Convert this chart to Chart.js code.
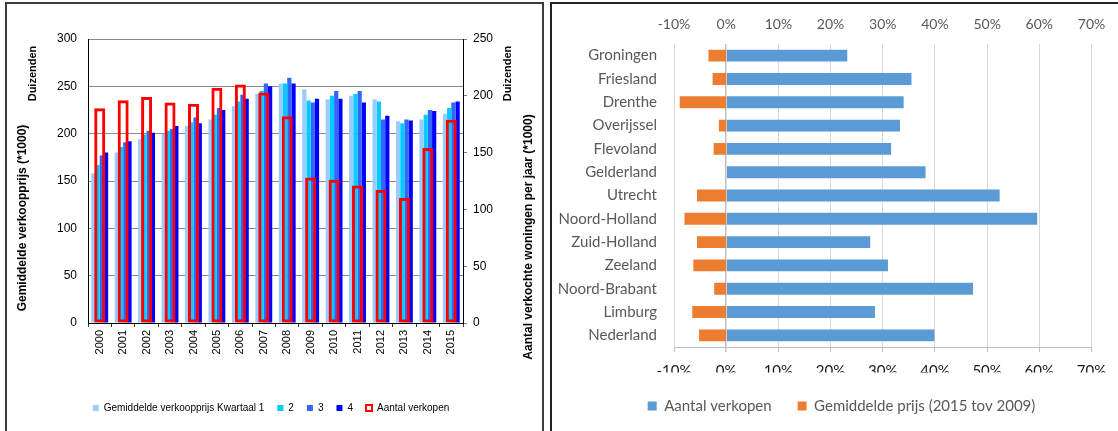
<!DOCTYPE html>
<html><head><meta charset="utf-8">
<script src="https://cdn.jsdelivr.net/npm/chart.js@4.4.1/dist/chart.umd.min.js"></script>
<style>
html,body{margin:0;padding:0;background:#fff;overflow:hidden;width:1118px;height:431px;}
.box{position:absolute;box-sizing:border-box;}
#lbox{left:5px;top:2px;width:539px;height:445px;border:2px solid #3c3c3c;}
#rbox{left:550px;top:2px;width:600px;height:445px;border:2px solid #222;}
#lwrap{position:absolute;left:7px;top:5px;width:534px;height:426px;}
#rwrap{position:absolute;left:553px;top:5px;width:578px;height:426px;}
canvas{display:block;}
</style></head>
<body>
<div class="box" id="lbox"></div>
<div class="box" id="rbox"></div>
<div id="lwrap"><canvas id="c1" width="534" height="426" style="width:534px;height:426px"></canvas></div>
<div id="rwrap"><canvas id="c2" width="578" height="426" style="width:578px;height:426px"></canvas></div>
<script>
// ---- Left chart data ----
const years = ['2000','2001','2002','2003','2004','2005','2006','2007','2008','2009','2010','2011','2012','2013','2014','2015'];
const q1 = [158,180,194,200,208,215,229,242,253,247,236,240,236,213,215,221];
const q2 = [167,186,199,203,212,220,234,245,253,235,240,242,234,211,220,227];
const q3 = [177,191,203,205,217,227,241,253,259,233,245,245,215,215,225,233];
const q4 = [180,192,201,208,211,225,237,250,253,237,237,233,219,214,224,234];
const sales = [189,196,199,194,193,207,210,203,182,128,126,121,117,110,154,179];
const leftTicks = [0,50,100,150,200,250,300];
const rightTicks = [0,50,100,150,200,250];

// ---- Right chart data ----
const regions = ['Groningen','Friesland','Drenthe','Overijssel','Flevoland','Gelderland','Utrecht','Noord-Holland','Zuid-Holland','Zeeland','Noord-Brabant','Limburg','Nederland'];
const salesChange = [23.2,35.5,34.0,33.3,31.6,38.2,52.4,59.6,27.6,31.0,47.3,28.5,39.9];
const priceChange = [-3.4,-2.6,-8.9,-1.4,-2.4,0,-5.6,-8.0,-5.6,-6.3,-2.3,-6.5,-5.2];

const ARIAL = 'Liberation Sans, Arial, sans-serif';
const CAL = 'Lato, Carlito, Calibri, sans-serif';

const axisTexts = {
  id: 'axisTexts',
  afterDraw(chart, args, opts) {
    const ctx = chart.ctx;
    (opts.items || []).forEach(it => {
      ctx.save();
      ctx.translate(it.x, it.y);
      ctx.rotate(-Math.PI / 2);
      ctx.font = it.font;
      ctx.fillStyle = '#000';
      ctx.textAlign = 'center';
      ctx.textBaseline = 'middle';
      ctx.fillText(it.text, 0, 0);
      ctx.restore();
    });
  }
};

const legendShift = {
  id: 'legendShift',
  afterLayout(chart, args, opts) {
    const lg = chart.legend;
    if (lg && opts.dx) { lg.left += opts.dx; lg.right += opts.dx; }
  }
};

new Chart(document.getElementById('c1'), {
  type: 'bar',
  data: {
    labels: years,
    datasets: [
      {label: 'Gemiddelde verkoopprijs Kwartaal 1', data: q1, backgroundColor: '#99CCFF', yAxisID: 'y', order: 1},
      {label: '2', data: q2, backgroundColor: '#00CCFF', yAxisID: 'y', order: 1},
      {label: '3', data: q3, backgroundColor: '#3366FF', yAxisID: 'y', order: 1},
      {label: '4', data: q4, backgroundColor: '#0000FF', yAxisID: 'y', order: 1},
      {label: 'Aantal verkopen', data: sales, yAxisID: 'y2', backgroundColor: 'rgba(255,255,255,0)',
       borderColor: '#FF0000', borderWidth: 3, borderSkipped: false, grouped: false,
       categoryPercentage: 0.47, barPercentage: 1, order: 0}
    ]
  },
  options: {
    responsive: false,
    animation: false,
    layout: {padding: {left: 0, right: 6, top: 34, bottom: 8}},
    datasets: {bar: {categoryPercentage: 0.72, barPercentage: 1}},
    plugins: {
      tooltip: {enabled: false},
      legend: {
        position: 'bottom',
        labels: {
          boxWidth: 6, boxHeight: 6, padding: 13, color: '#000',
          font: {family: ARIAL, size: 10},
          generateLabels(chart) {
            const items = Chart.defaults.plugins.legend.labels.generateLabels(chart);
            items.forEach(i => { if (i.datasetIndex === 4) i.lineWidth = 2; });
            items.sort((a, b) => a.datasetIndex - b.datasetIndex);
            return items;
          }
        }
      },
      axisTexts: {
        items: [
          {text: 'Duizenden', x: 25.5, y: 68.5, font: 'bold 11px ' + ARIAL},
          {text: 'Gemiddelde verkoopprijs (*1000)', x: 15.5, y: 213, font: 'bold 12px ' + ARIAL},
          {text: 'Duizenden', x: 501, y: 68.5, font: 'bold 11px ' + ARIAL},
          {text: 'Aantal verkochte woningen per jaar (*1000)', x: 521.5, y: 232, font: 'bold 12px ' + ARIAL}
        ]
      }
    },
    scales: {
      x: {
        offset: true,
        grid: {offset: true, drawOnChartArea: false, drawTicks: true, tickLength: 4, color: '#333'},
        border: {display: true, color: '#000', width: 1},
        ticks: {font: {family: ARIAL, size: 11}, color: '#000', minRotation: 90, maxRotation: 90, autoSkip: false, padding: 3},
        afterFit(s) { s.height = 67; }
      },
      y: {
        position: 'left', min: 0, max: 300,
        afterBuildTicks(s) { s.ticks = leftTicks.map(v => ({value: v})); },
        ticks: {font: {family: ARIAL, size: 12}, color: '#000', padding: 11},
        grid: {color: '#8a8a8a', drawTicks: false, lineWidth: 1},
        border: {display: true, color: '#000'},
        afterFit(s) { s.width = 81; }
      },
      y2: {
        position: 'right', min: 0, max: 250,
        afterBuildTicks(s) { s.ticks = rightTicks.map(v => ({value: v})); },
        ticks: {font: {family: ARIAL, size: 12}, color: '#000', padding: 6},
        grid: {drawOnChartArea: false, drawTicks: true, tickLength: 4, color: '#808080'},
        border: {display: true, color: '#000'},
        afterFit(s) { s.width = 72; }
      }
    }
  },
  plugins: [axisTexts]
});

const pct = v => v + '%';
new Chart(document.getElementById('c2'), {
  type: 'bar',
  data: {
    labels: regions,
    datasets: [
      {label: 'Aantal verkopen', data: salesChange, backgroundColor: '#5B9BD5', xAxisID: 'x'},
      {label: 'Gemiddelde prijs (2015 tov 2009)', data: priceChange, backgroundColor: '#ED7D31', xAxisID: 'x2'}
    ]
  },
  options: {
    indexAxis: 'y',
    responsive: false,
    animation: false,
    layout: {padding: {left: 0, right: 39.5, top: 0, bottom: 7.5}},
    datasets: {bar: {grouped: false, categoryPercentage: 1, barPercentage: 0.51}},
    plugins: {
      tooltip: {enabled: false},
      legendShift: {dx: 19.25},
      legend: {
        position: 'bottom',
        labels: {boxWidth: 9, boxHeight: 9, padding: 26, color: '#595959', font: {family: CAL, size: 15}}
      }
    },
    scales: {
      y: {
        offset: true,
        grid: {display: false},
        border: {display: false},
        ticks: {color: '#595959', font: {family: CAL, size: 15}, padding: 9, autoSkip: false},
        afterFit(s) { s.width = 121; }
      },
      x: {
        type: 'linear', position: 'bottom', min: -10, max: 70,
        ticks: {stepSize: 10, callback: pct, color: '#1a1a1a', font: {family: CAL, size: 15}, padding: 10},
        grid: {
          color: c => (c.tick && c.tick.value === 0) ? '#bfbfbf' : '#d9d9d9',
          lineWidth: c => (c.tick && c.tick.value === 0) ? 1.5 : 1,
          tickColor: '#bfbfbf', tickLength: 5
        },
        border: {display: true, color: '#bfbfbf'},
        afterFit(s) { s.height = 25.5; }
      },
      x2: {
        type: 'linear', position: 'top', min: -10, max: 70,
        ticks: {stepSize: 10, callback: pct, color: '#595959', font: {family: CAL, size: 14}, padding: 3.5},
        grid: {display: false},
        border: {display: false},
        afterFit(s) { s.height = 39; }
      }
    }
  },
  plugins: [legendShift]
});
</script>
</body></html>
